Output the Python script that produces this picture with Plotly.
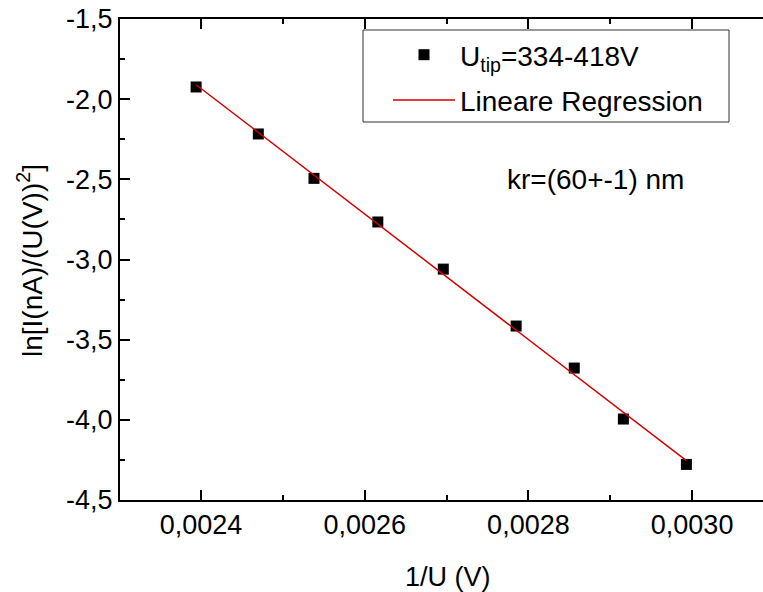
import plotly.graph_objects as go

# Data
inv_u = [0.002394, 0.002470, 0.002538, 0.002616, 0.002696, 0.002785, 0.002856, 0.002916, 0.002993]
ln_iu2 = [-1.924, -2.217, -2.494, -2.766, -3.060, -3.415, -3.677, -3.995, -4.278]

# Linear regression line endpoints
fit_x = [0.002394, 0.002993]
fit_y = [-1.910, -4.255]

x_tickvals = [0.0024, 0.0026, 0.0028, 0.0030]
x_ticktext = ["0,0024", "0,0026", "0,0028", "0,0030"]
x_minor = [0.0023, 0.0025, 0.0027, 0.0029]
y_tickvals = [-4.5, -4.0, -3.5, -3.0, -2.5, -2.0, -1.5]
y_ticktext = ["-4,5", "-4,0", "-3,5", "-3,0", "-2,5", "-2,0", "-1,5"]
y_minor = [-4.25, -3.75, -3.25, -2.75, -2.25, -1.75]

FONT = "Liberation Sans, Arial, sans-serif"

fig = go.Figure()
fig.add_trace(go.Scatter(
    x=inv_u, y=ln_iu2, mode="markers",
    marker=dict(symbol="square", size=11, color="black"),
    name="U<sub>tip</sub>=334-418V", legendgroup="a",
))
fig.add_trace(go.Scatter(
    x=fit_x, y=fit_y, mode="lines",
    line=dict(color="#d40000", width=1.5),
    name="Lineare Regression", legendgroup="b",
))

W, H = 763, 592
L, T, B, R = 120, 19, 92, 0
pw = W - L - R
ph = H - T - B

def px_x(p):
    return (p - L) / pw

def px_y(p):
    return (H - B - p) / ph

fig.update_layout(
    width=W, height=H,
    margin=dict(l=L, r=R, t=T, b=B, pad=0),
    plot_bgcolor="white", paper_bgcolor="white",
    font=dict(family=FONT, size=27, color="black"),
    showlegend=True,
    legend=dict(
        x=px_x(388), y=px_y(30), xanchor="left", yanchor="top",
        borderwidth=0, bgcolor="rgba(0,0,0,0)",
        font=dict(size=28, family=FONT),
        itemwidth=62, traceorder="grouped", tracegroupgap=6,
    ),
    shapes=[
        dict(type="rect", xref="paper", yref="paper",
             x0=px_x(363), x1=px_x(729), y0=px_y(122), y1=px_y(30),
             line=dict(color="#333333", width=1), fillcolor="white", layer="below"),
    ],
    xaxis=dict(
        range=[0.002301, 0.0030866],
        tickvals=x_tickvals, ticktext=x_ticktext,
        ticks="inside", ticklen=10, tickwidth=2, tickcolor="black",
        showline=True, linewidth=2, linecolor="black", mirror="ticks",
        showgrid=False, zeroline=False,
        tickfont=dict(size=27),
        minor=dict(tickvals=x_minor, ticks="inside", ticklen=5, tickwidth=2, tickcolor="black", showgrid=False),
    ),
    yaxis=dict(
        range=[-4.5, -1.5],
        tickvals=y_tickvals, ticktext=y_ticktext,
        ticks="inside", ticklen=10, tickwidth=2, tickcolor="black",
        showline=True, linewidth=2, linecolor="black", mirror=False,
        showgrid=False, zeroline=False,
        tickfont=dict(size=27),
        minor=dict(tickvals=y_minor, ticks="inside", ticklen=5, tickwidth=2, tickcolor="black", showgrid=False),
    ),
    annotations=[
        dict(text="kr=(60+-1) nm", xref="paper", yref="paper",
             x=px_x(505), y=px_y(180), xanchor="left", yanchor="middle",
             showarrow=False, font=dict(size=28, family=FONT)),
        dict(text="1/U (V)", xref="paper", yref="paper",
             x=px_x(448), y=px_y(577), xanchor="center", yanchor="middle",
             showarrow=False, font=dict(size=27, family=FONT)),
        dict(text="ln[I(nA)/(U(V))<sup>2</sup>]", xref="paper", yref="paper",
             x=px_x(30), y=px_y(261), xanchor="center", yanchor="middle",
             textangle=-90, showarrow=False, font=dict(size=28, family=FONT)),
    ],
)

fig.write_html("out.html", post_script="document.body.style.margin='0px';",
               config={"displayModeBar": False})
